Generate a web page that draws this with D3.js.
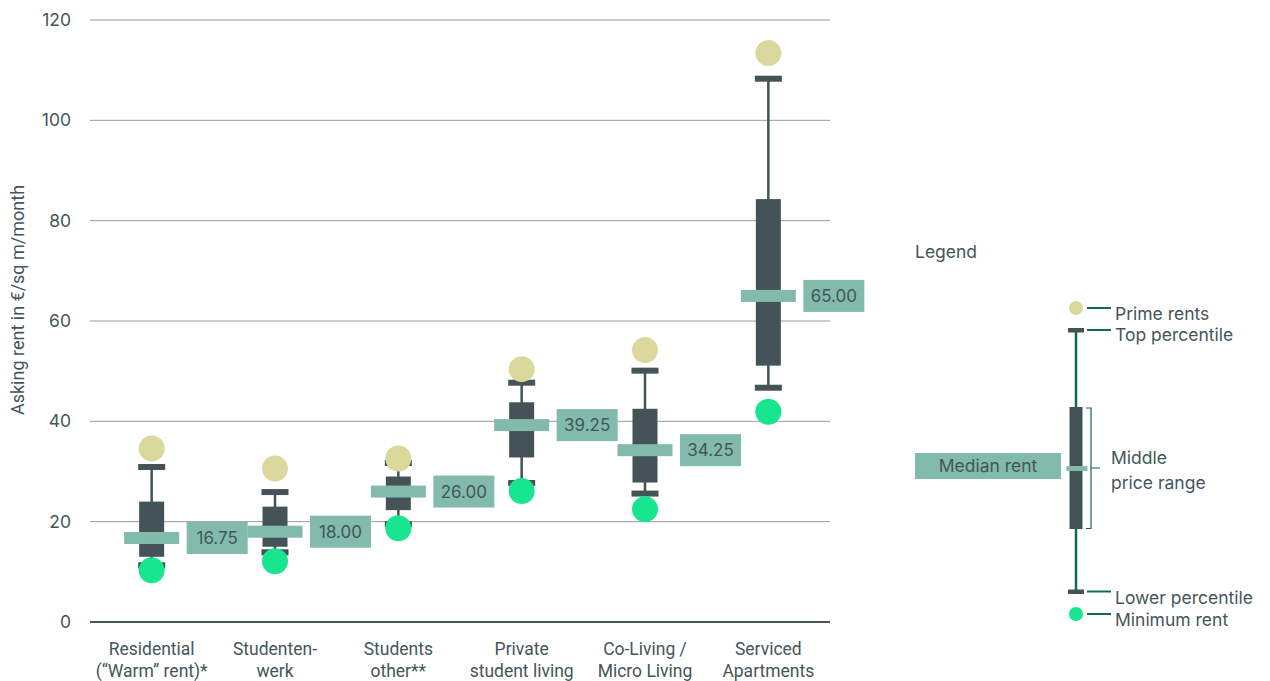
<!DOCTYPE html>
<html><head><meta charset="utf-8">
<script src="https://cdn.jsdelivr.net/npm/d3@7/dist/d3.min.js"></script>
<style>
body{margin:0;background:#fff;}
svg{display:block;}
text{fill:#44565a;}
</style></head>
<body>
<svg id="c" width="1270" height="681"></svg>
<script>
const categories = [["Residential","(“Warm” rent)*"],["Studenten-","werk"],["Students","other**"],["Private","student living"],["Co-Living /","Micro Living"],["Serviced","Apartments"]];
const prime   = [34.6, 30.6, 32.6, 50.4, 54.2, 113.4];
const topPct  = [30.9, 25.9, 31.7, 47.7, 50.1, 108.3];
const q3      = [24.0, 23.0, 29.0, 43.8, 42.5, 84.3];
const median  = [16.75, 18.00, 26.00, 39.25, 34.25, 65.00];
const q1      = [13.0, 15.0, 22.3, 32.8, 27.8, 51.1];
const lowPct  = [11.3, 13.9, 19.5, 27.7, 25.6, 46.7];
const minimum = [10.3, 12.1, 18.7, 26.1, 22.5, 41.9];
const yTicks  = [0, 20, 40, 60, 80, 100, 120];

const C = {box:"#435357", med:"#82baab", prime:"#dbd89d", min:"#17e68f", grid:"#9a9a9a", text:"#44565a", leg:"#0f6b4c"};
const svg = d3.select("#c");
const x = d3.scaleBand().domain(d3.range(categories.length)).range([90, 830]);
const y = d3.scaleLinear().domain([0, 120]).range([622, 20]);
const fontNum = "Inter, 'Noto Sans', sans-serif";
const fontLab = "Roboto, sans-serif";

// grid
svg.append("g").selectAll("line").data(yTicks.filter(d=>d>0)).join("line")
  .attr("x1", 90).attr("x2", 830).attr("y1", d=>y(d)).attr("y2", d=>y(d))
  .attr("stroke", C.grid).attr("stroke-width", 1);
svg.append("line").attr("x1", 90).attr("x2", 830).attr("y1", y(0)).attr("y2", y(0))
  .attr("stroke", "#44565a").attr("stroke-width", 2);

// y tick labels
svg.append("g").selectAll("text").data(yTicks).join("text")
  .attr("x", 71).attr("y", d=>y(d)).attr("dy", "0.35em").attr("text-anchor", "end")
  .style("font-family", fontNum).style("font-size", "17.5px").text(d=>d);

svg.append("text").attr("transform", "translate(24,300) rotate(-90)").attr("text-anchor", "middle")
  .style("font-family", fontLab).style("font-size", "18px").text("Asking rent in €/sq m/month");

// x labels
const xl = svg.append("g").selectAll("text").data(categories).join("text")
  .attr("text-anchor", "middle").style("font-family", fontLab).style("font-size", "17.5px")
  .attr("x", (d,i)=>x(i)+x.bandwidth()/2);
xl.selectAll("tspan").data(d=>d).join("tspan")
  .attr("x", function(){return d3.select(this.parentNode).attr("x");})
  .attr("y", (d,j)=>655 + j*22).text(d=>d);

// boxes
const idx = d3.range(categories.length);
const cx = i => x(i) + x.bandwidth()/2;
const g = svg.append("g");
g.selectAll(".wh").data(idx).join("line")
  .attr("x1", cx).attr("x2", cx).attr("y1", i=>y(topPct[i])).attr("y2", i=>y(lowPct[i]))
  .attr("stroke", C.box).attr("stroke-width", 2.5);
[topPct, lowPct].forEach(arr=>{
  g.selectAll(null).data(idx).join("rect")
    .attr("x", i=>cx(i)-13.5).attr("width", 27).attr("y", i=>y(arr[i])-3).attr("height", 6)
    .attr("fill", C.box);
});
g.selectAll(".bx").data(idx).join("rect")
  .attr("x", i=>cx(i)-12.5).attr("width", 25).attr("y", i=>y(q3[i])).attr("height", i=>y(q1[i])-y(q3[i]))
  .attr("fill", C.box);
g.selectAll(".md").data(idx).join("rect")
  .attr("x", i=>cx(i)-27.5).attr("width", 55).attr("y", i=>y(median[i])-6).attr("height", 12)
  .attr("fill", C.med);
g.selectAll(".pr").data(idx).join("circle")
  .attr("cx", cx).attr("cy", i=>y(prime[i])).attr("r", 13).attr("fill", C.prime);
g.selectAll(".mn").data(idx).join("circle")
  .attr("cx", cx).attr("cy", i=>y(minimum[i])).attr("r", 13).attr("fill", C.min);
// value labels
g.selectAll(".lb").data(idx).join("rect")
  .attr("x", i=>cx(i)+35).attr("width", 61).attr("y", i=>y(median[i])-16).attr("height", 32)
  .attr("fill", C.med);
g.selectAll(".lt").data(idx).join("text")
  .attr("x", i=>cx(i)+35+30.5).attr("y", i=>y(median[i])).attr("dy", "0.36em").attr("text-anchor", "middle")
  .style("font-family", fontNum).style("font-size", "17px").text(i=>median[i].toFixed(2));

// legend
const L = svg.append("g");
const lx = 1076;
const lfs = "17.5px";
L.append("text").attr("x", 915).attr("y", 258).style("font-family", fontNum).style("font-size", lfs).text("Legend");
L.append("line").attr("x1", lx).attr("x2", lx).attr("y1", 330).attr("y2", 591.5).attr("stroke", C.leg).attr("stroke-width", 2.5);
L.append("rect").attr("x", lx-8).attr("y", 328).attr("width", 16).attr("height", 4.5).attr("fill", C.box);
L.append("rect").attr("x", lx-8).attr("y", 589.5).attr("width", 16).attr("height", 4.5).attr("fill", C.box);
L.append("rect").attr("x", lx-6.5).attr("y", 407).attr("width", 13).attr("height", 122).attr("fill", C.box);
L.append("rect").attr("x", lx-9.5).attr("y", 466).attr("width", 21).attr("height", 5).attr("fill", C.med);
L.append("circle").attr("cx", lx).attr("cy", 308).attr("r", 7).attr("fill", C.prime);
L.append("circle").attr("cx", lx).attr("cy", 614).attr("r", 7).attr("fill", C.min);
L.append("rect").attr("x", 915).attr("y", 453).attr("width", 146).attr("height", 26).attr("fill", C.med);
L.append("text").attr("x", 988).attr("y", 466).attr("dy", "0.36em").attr("text-anchor", "middle")
  .style("font-family", fontNum).style("font-size", lfs).text("Median rent");
L.append("path").attr("d", "M1086,408 H1091 V468 H1100 M1091,468 V528.5 H1086")
  .attr("fill", "none").attr("stroke", C.leg).attr("stroke-width", 1.2);
const items = [[308, "Prime rents", 314], [330, "Top percentile", 335], [591.5, "Lower percentile", 598], [614, "Minimum rent", 620]];
items.forEach(([ly, t, ty])=>{
  L.append("line").attr("x1", 1087).attr("x2", 1111).attr("y1", ly).attr("y2", ly).attr("stroke", C.leg).attr("stroke-width", 2);
  L.append("text").attr("x", 1115).attr("y", ty).attr("dy", "0.36em").style("font-family", fontNum).style("font-size", lfs).text(t);
});
L.append("text").attr("x", 1111).attr("y", 464).style("font-family", fontNum).style("font-size", lfs).text("Middle");
L.append("text").attr("x", 1111).attr("y", 489).style("font-family", fontNum).style("font-size", lfs).text("price range");
</script>
</body></html>
